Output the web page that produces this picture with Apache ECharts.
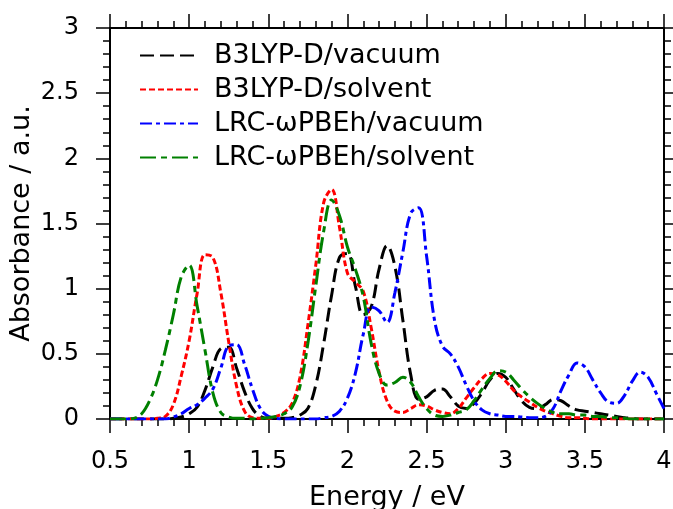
<!DOCTYPE html>
<html>
<head>
<meta charset="utf-8">
<script src="https://cdn.jsdelivr.net/npm/echarts@6/dist/echarts.min.js"></script>
<style>
html, body { margin: 0; padding: 0; background: #fff; }
#main { width: 673px; height: 509px; }
</style>
</head>
<body>
<div id="main"></div>
<script>
// energies (eV), sampled every 0.05 eV
var energy = [0.5,0.55,0.6,0.65,0.7,0.75,0.8,0.85,0.9,0.95,
  1.0,1.05,1.1,1.15,1.2,1.25,1.3,1.35,1.4,1.45,
  1.5,1.55,1.6,1.65,1.7,1.75,1.8,1.85,1.9,1.95,
  2.0,2.05,2.1,2.15,2.2,2.25,2.3,2.35,2.4,2.45,
  2.5,2.55,2.6,2.65,2.7,2.75,2.8,2.85,2.9,2.95,
  3.0,3.05,3.1,3.15,3.2,3.25,3.3,3.35,3.4,3.45,
  3.5,3.55,3.6,3.65,3.7,3.75,3.8,3.85,3.9,3.95,4.0];

var seriesNames = ["B3LYP-D/vacuum", "B3LYP-D/solvent", "LRC-ωPBEh/vacuum", "LRC-ωPBEh/solvent"];

var b3lypVacuum = [0,0,0,0,0,0,0,0,0.005,0.015,
  0.04,0.09,0.22,0.40,0.54,0.55,0.39,0.21,0.08,0.02,
  0.005,0.005,0.005,0.01,0.03,0.08,0.26,0.58,0.95,1.24,
  1.27,1.02,0.80,0.86,1.15,1.33,1.17,0.76,0.34,0.15,
  0.17,0.22,0.23,0.17,0.10,0.08,0.12,0.20,0.30,0.35,
  0.32,0.23,0.14,0.09,0.08,0.11,0.15,0.14,0.10,0.07,
  0.06,0.05,0.04,0.03,0.02,0.01,0.005,0,0,0,0];

var b3lypSolvent = [0,0,0,0,0,0,0.005,0.02,0.11,0.33,
  0.60,0.96,1.26,1.24,0.97,0.59,0.25,0.06,0.01,0.005,
  0.005,0.02,0.05,0.12,0.32,0.72,1.18,1.66,1.76,1.47,
  1.12,1.05,0.98,0.70,0.36,0.14,0.06,0.05,0.08,0.11,
  0.10,0.07,0.05,0.04,0.08,0.16,0.24,0.31,0.35,0.34,
  0.29,0.22,0.17,0.13,0.09,0.06,0.04,0.02,0.01,0.01,
  0.005,0,0,0,0,0,0,0,0,0,0];

var lrcVacuum = [0,0,0,0,0,0,0,0,0.015,0.04,
  0.08,0.11,0.16,0.23,0.39,0.56,0.57,0.42,0.23,0.08,
  0.02,0.005,0,0,0,0,0,0.01,0.02,0.06,
  0.16,0.35,0.65,0.86,0.83,0.74,0.97,1.28,1.58,1.62,
  1.25,0.76,0.56,0.50,0.40,0.26,0.14,0.07,0.04,0.03,
  0.02,0.02,0.015,0.01,0.01,0.02,0.08,0.22,0.34,0.43,
  0.40,0.30,0.20,0.13,0.12,0.18,0.29,0.36,0.32,0.20,0.08];

var lrcSolvent = [0,0,0,0.005,0.04,0.14,0.30,0.53,0.80,1.09,
  1.18,0.87,0.53,0.20,0.05,0.015,0.005,0.005,0,0.005,
  0.01,0.02,0.04,0.09,0.25,0.58,1.02,1.44,1.68,1.56,
  1.32,1.15,0.94,0.58,0.35,0.26,0.28,0.32,0.28,0.17,
  0.08,0.03,0.02,0.03,0.05,0.07,0.14,0.23,0.31,0.37,
  0.36,0.30,0.23,0.17,0.12,0.08,0.05,0.04,0.04,0.03,
  0.03,0.02,0.02,0.01,0.01,0.005,0,0,0,0,0];

var allValues = [b3lypVacuum, b3lypSolvent, lrcVacuum, lrcSolvent];
var colors = ["#000000", "#ff0000", "#0000ff", "#008000"];
var dashes = [[14, 6], [6, 3], [12, 4, 4, 4], [16, 5, 6, 5]];

var xTicks = { min: 0.5, max: 4, interval: 0.5 };
var yTicks = { min: 0, max: 3, interval: 0.5 };

var font = "DejaVu Sans";
var myChart = echarts.init(document.getElementById("main"));

function pairs(vals) {
  return energy.map(function (e, i) { return [e, vals[i]]; });
}

function axisBase(pos, ticks, withLabels) {
  return {
    type: "value",
    position: pos,
    min: ticks.min,
    max: ticks.max,
    interval: ticks.interval,
    nameMoveOverlap: false,
    axisLine: { show: true, onZero: false, lineStyle: { color: "#000", width: 2 } },
    axisTick: { show: true, inside: false, length: 14, lineStyle: { color: "#000", width: 1.5 } },
    minorTick: { show: true, splitNumber: 5, length: 7, lineStyle: { color: "#000", width: 1.5 } },
    splitLine: { show: false },
    minorSplitLine: { show: false },
    axisLabel: {
      show: withLabels,
      color: "#000",
      fontFamily: font,
      fontSize: 24,
      margin: 31
    }
  };
}

var xBottom = axisBase("bottom", xTicks, true);
xBottom.name = "Energy / eV";
xBottom.nameLocation = "middle";
xBottom.nameGap = 65;
xBottom.nameTextStyle = { color: "#000", fontFamily: font, fontSize: 27 };

var yLeft = axisBase("left", yTicks, true);
yLeft.name = "Absorbance / a.u.";
yLeft.nameLocation = "middle";
yLeft.nameGap = 75;
yLeft.nameTextStyle = { color: "#000", fontFamily: font, fontSize: 27 };

var series = seriesNames.map(function (name, k) {
  return {
    name: name,
    type: "line",
    smooth: 0.4,
    symbol: "none",
    showSymbol: false,
    xAxisIndex: 0,
    yAxisIndex: 0,
    lineStyle: { color: colors[k], width: 3, type: dashes[k] },
    itemStyle: { color: colors[k] },
    data: pairs(allValues[k])
  };
});

myChart.setOption({
  animation: false,
  backgroundColor: "#fff",
  grid: { left: 110, right: 9, top: 28, bottom: 90, containLabel: false, outerBoundsMode: "none" },
  legend: {
    orient: "vertical",
    left: 134,
    top: 37,
    itemWidth: 58,
    itemHeight: 14,
    itemGap: 7,
    data: seriesNames,
    itemStyle: { opacity: 0 },
    textStyle: { color: "#000", fontFamily: font, fontSize: 27, padding: [0, 0, 0, 11] }
  },
  xAxis: [xBottom, axisBase("top", xTicks, false)],
  yAxis: [yLeft, axisBase("right", yTicks, false)],
  series: series
});
</script>
</body>
</html>
